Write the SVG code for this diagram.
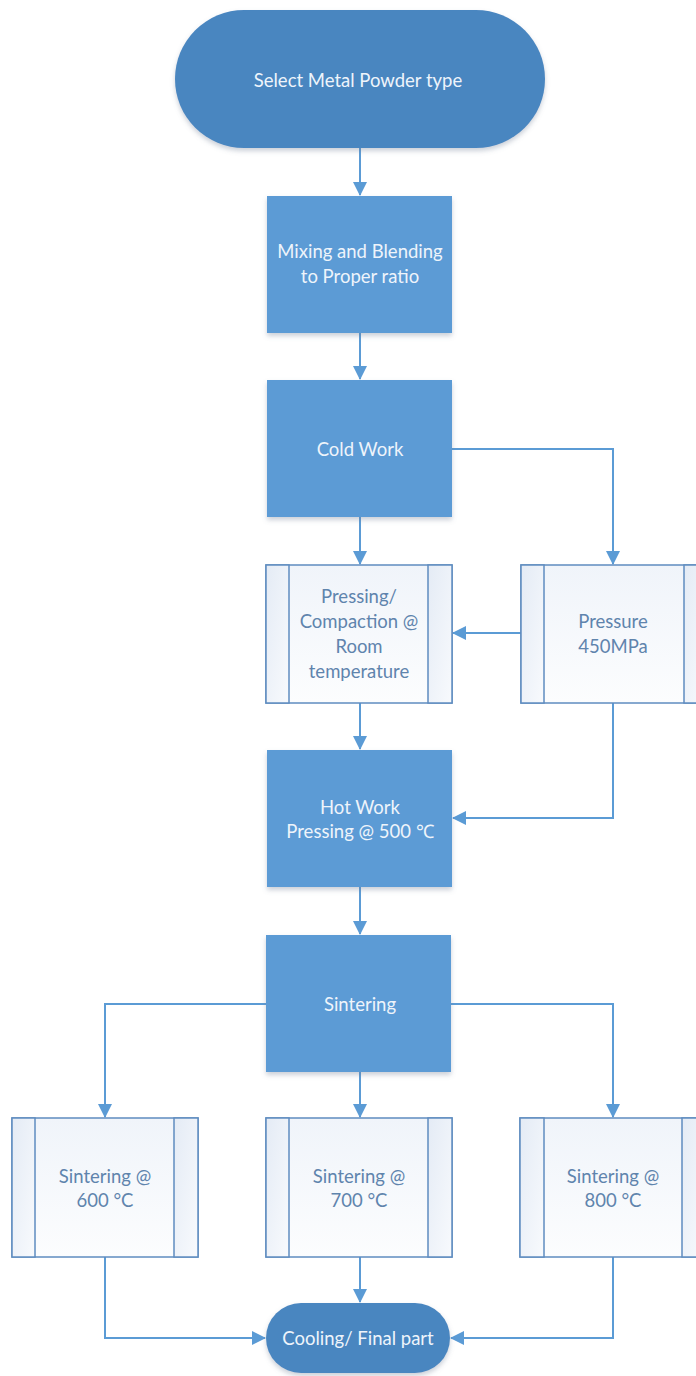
<svg xmlns="http://www.w3.org/2000/svg" width="696" height="1376" viewBox="0 0 696 1376">
<style>
.term{fill:#4a86c0;}
.proc{fill:#5b9bd5;}
.pre{fill:url(#preGrad);stroke:#5f8cc0;stroke-width:1.5;}
.side{fill:url(#sideGrad);stroke:#5f8cc0;stroke-width:1.5;}
.wt{font-family:Lato,"Open Sans",sans-serif;font-size:18.5px;fill:#eef4fb;text-anchor:middle;}
.bt{font-family:Lato,"Open Sans",sans-serif;font-size:18.5px;fill:#5f84ad;text-anchor:middle;}
.conn{fill:none;stroke:#5b9bd5;stroke-width:2;}
</style>
<defs>
<linearGradient id="preGrad" x1="0" y1="0" x2="0" y2="1">
<stop offset="0" stop-color="#f0f4fa"/>
<stop offset="1" stop-color="#fcfdfe"/>
</linearGradient>
<linearGradient id="sideGrad" x1="0" y1="0" x2="1" y2="1">
<stop offset="0" stop-color="#e4ebf5"/>
<stop offset="1" stop-color="#f8fafd"/>
</linearGradient>
<filter id="sh" x="-10%" y="-10%" width="120%" height="125%">
<feDropShadow dx="0" dy="3" stdDeviation="2.5" flood-color="#6a7a90" flood-opacity="0.35"/>
</filter>
<marker id="ah" viewBox="0 0 14 14" refX="13" refY="7" markerWidth="14" markerHeight="14" markerUnits="userSpaceOnUse" orient="auto">
<path d="M0,0 L14,7 L0,14 Z" fill="#5b9bd5"/>
</marker>
</defs>
<g id="connectors">
<path class="conn" d="M360,148 V195" marker-end="url(#ah)"/>
<path class="conn" d="M360,333 V379" marker-end="url(#ah)"/>
<path class="conn" d="M360,517 V564" marker-end="url(#ah)"/>
<path class="conn" d="M452,449 H613 V564" marker-end="url(#ah)"/>
<path class="conn" d="M521,633 H453" marker-end="url(#ah)"/>
<path class="conn" d="M360,703 V749" marker-end="url(#ah)"/>
<path class="conn" d="M613,703 V818 H453" marker-end="url(#ah)"/>
<path class="conn" d="M360,887 V934" marker-end="url(#ah)"/>
<path class="conn" d="M266,1004 H105 V1117" marker-end="url(#ah)"/>
<path class="conn" d="M360,1072 V1117" marker-end="url(#ah)"/>
<path class="conn" d="M450,1004 H613 V1117" marker-end="url(#ah)"/>
<path class="conn" d="M105,1257 V1338 H265" marker-end="url(#ah)"/>
<path class="conn" d="M360,1257 V1302" marker-end="url(#ah)"/>
<path class="conn" d="M613,1257 V1338 H451" marker-end="url(#ah)"/>
</g>
<g id="start">
<rect class="term" x="175" y="10" width="370" height="138" rx="69" filter="url(#sh)"/>
<text class="wt" x="358" y="87">Select Metal Powder type</text>
</g>
<g id="mixing">
<rect class="proc" x="267" y="196" width="185" height="137" filter="url(#sh)"/>
<text class="wt" x="360" y="258">Mixing and Blending</text>
<text class="wt" x="360" y="283">to Proper ratio</text>
</g>
<g id="coldwork">
<rect class="proc" x="267" y="380" width="185" height="137" filter="url(#sh)"/>
<text class="wt" x="360" y="456">Cold Work</text>
</g>
<g id="pressing">
<rect class="pre" x="266" y="565" width="186" height="138"/>
<rect class="side" x="266" y="565" width="23" height="138"/>
<rect class="side" x="428" y="565" width="24" height="138"/>
<text class="bt" x="359" y="603">Pressing/</text>
<text class="bt" x="359" y="628">Compaction @</text>
<text class="bt" x="359" y="653">Room</text>
<text class="bt" x="359" y="678">temperature</text>
</g>
<g id="pressure">
<rect class="pre" x="521" y="565" width="186" height="138"/>
<rect class="side" x="521" y="565" width="23" height="138"/>
<rect class="side" x="684" y="565" width="23" height="138"/>
<text class="bt" x="613" y="628">Pressure</text>
<text class="bt" x="613" y="653">450MPa</text>
</g>
<g id="hotwork">
<rect class="proc" x="267" y="750" width="185" height="137" filter="url(#sh)"/>
<text class="wt" x="360" y="814">Hot Work</text>
<text class="wt" x="360" y="838">Pressing @ 500 ℃</text>
</g>
<g id="sintering">
<rect class="proc" x="266" y="935" width="185" height="137" filter="url(#sh)"/>
<text class="wt" x="360" y="1011">Sintering</text>
</g>
<g id="sint600">
<rect class="pre" x="12" y="1118" width="186" height="139"/>
<rect class="side" x="12" y="1118" width="23" height="139"/>
<rect class="side" x="174" y="1118" width="24" height="139"/>
<text class="bt" x="105" y="1183">Sintering @</text>
<text class="bt" x="105" y="1207">600 °C</text>
</g>
<g id="sint700">
<rect class="pre" x="266" y="1118" width="186" height="139"/>
<rect class="side" x="266" y="1118" width="23" height="139"/>
<rect class="side" x="428" y="1118" width="24" height="139"/>
<text class="bt" x="359" y="1183">Sintering @</text>
<text class="bt" x="359" y="1207">700 °C</text>
</g>
<g id="sint800">
<rect class="pre" x="520" y="1118" width="186" height="139"/>
<rect class="side" x="520" y="1118" width="24" height="139"/>
<rect class="side" x="682" y="1118" width="24" height="139"/>
<text class="bt" x="613" y="1183">Sintering @</text>
<text class="bt" x="613" y="1207">800 °C</text>
</g>
<g id="cooling">
<rect class="term" x="266" y="1303" width="184" height="70" rx="35" filter="url(#sh)"/>
<text class="wt" x="358" y="1345">Cooling/ Final part</text>
</g>
</svg>
